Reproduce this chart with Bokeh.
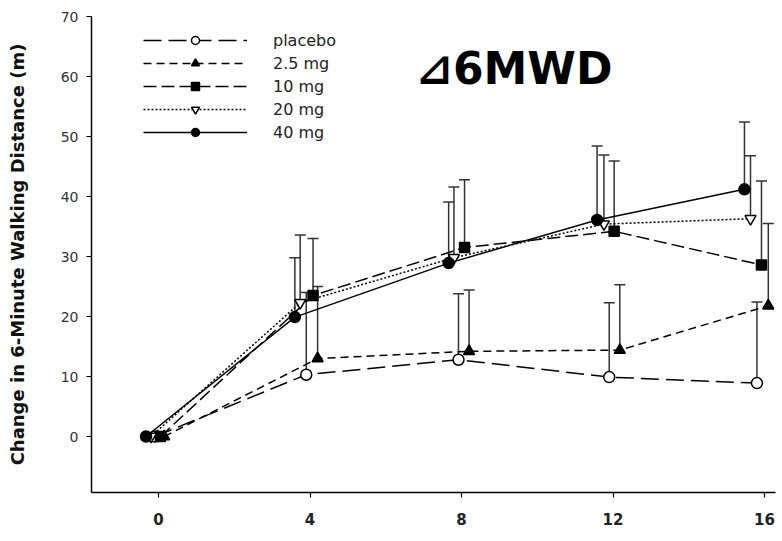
from bokeh.plotting import figure
from bokeh.models import (ColumnDataSource, Whisker, TeeHead, Legend, LegendItem,
                          Label, FixedTicker)
from bokeh.embed import file_html
from bokeh.resources import INLINE

# ---------------- data ----------------
x_ticks = [0, 4, 8, 12, 16]
y_ticks = [0, 10, 20, 30, 40, 50, 60, 70]
y_label = "Change in 6-Minute Walking Distance (m)"
title_text = "\u22bf6MWD"

series_names = ["placebo", "2.5 mg", "10 mg", "20 mg", "40 mg"]

x_placebo = [-0.10, 3.90, 7.92, 11.90, 15.80]
y_placebo = [0, 10.3, 12.8, 9.9, 8.9]
err_placebo = [0, 13.7, 11.0, 12.4, 13.5]

x_2_5 = [0.15, 4.20, 8.20, 12.18, 16.10]
y_2_5 = [0, 13.0, 14.2, 14.4, 21.8]
err_2_5 = [0, 12.0, 10.2, 10.9, 13.7]

x_10 = [0.05, 4.08, 8.08, 12.03, 15.92]
y_10 = [0, 23.5, 31.5, 34.2, 28.6]
err_10 = [0, 9.5, 11.3, 11.7, 14.0]

x_20 = [-0.20, 3.74, 7.80, 11.76, 15.63]
y_20 = [0, 22.3, 29.8, 35.4, 36.3]
err_20 = [0, 11.3, 11.8, 11.5, 10.5]

x_40 = [-0.33, 3.60, 7.66, 11.58, 15.47]
y_40 = [0, 19.9, 28.9, 36.1, 41.2]
err_40 = [0, 9.9, 10.2, 12.3, 11.2]

FONT = "DejaVu Sans"

p = figure(width=782, height=541, output_backend="svg", toolbar_location=None,
           x_range=(-1.77, 16.29), y_range=(-9.33, 70),
           min_border_left=91, min_border_right=7, min_border_top=16,
           min_border_bottom=49)
p.outline_line_color = None
p.xgrid.grid_line_color = None
p.ygrid.grid_line_color = None
p.background_fill_color = "white"
p.border_fill_color = "white"

for ax in (p.xaxis[0], p.yaxis[0]):
    ax.axis_line_color = "black"
    ax.axis_line_width = 1.5
    ax.major_tick_line_color = "black"
    ax.major_tick_line_width = 1.2
    ax.major_tick_in = 0
    ax.major_tick_out = 5
    ax.minor_tick_line_color = None
    ax.major_label_text_font = FONT

p.xaxis.ticker = FixedTicker(ticks=x_ticks)
p.xaxis.major_label_text_font_size = "15px"
p.xaxis.major_label_text_font_style = "bold"
p.xaxis.major_label_text_color = "#222222"
p.xaxis.major_label_standoff = 15

p.yaxis.ticker = FixedTicker(ticks=y_ticks)
p.yaxis.major_label_text_font_size = "14px"
p.yaxis.major_label_text_color = "#333333"
p.yaxis.major_label_standoff = 8
p.yaxis.axis_label = y_label
p.yaxis.axis_label_text_font = FONT
p.yaxis.axis_label_text_font_size = "18px"
p.yaxis.axis_label_text_font_style = "bold"
p.yaxis.axis_label_text_color = "#111111"
p.yaxis.axis_label_standoff = 30

styles = [
    dict(x=x_placebo, y=y_placebo, err=err_placebo, dash="18 7", marker="circle",
         fill="white", size=11),
    dict(x=x_2_5, y=y_2_5, err=err_2_5, dash="8 5", marker="triangle",
         fill="black", size=11),
    dict(x=x_10, y=y_10, err=err_10, dash="13 5", marker="square",
         fill="black", size=10),
    dict(x=x_20, y=y_20, err=err_20, dash="2 2", marker="inverted_triangle",
         fill="white", size=11),
    dict(x=x_40, y=y_40, err=err_40, dash="solid", marker="circle",
         fill="black", size=11),
]

# error bars (upper only)
for s in styles:
    idx = [i for i, e in enumerate(s["err"]) if e > 0]
    src = ColumnDataSource(dict(
        x=[s["x"][i] for i in idx],
        y=[s["y"][i] for i in idx],
        upper=[s["y"][i] + s["err"][i] for i in idx],
    ))
    w = Whisker(source=src, base="x", lower="y", upper="upper", dimension="height",
                line_color="#333333", line_width=1.5, level="underlay",
                upper_head=TeeHead(size=11, line_color="#333333", line_width=1.5),
                lower_head=None)
    p.add_layout(w)

items = []
for name, s in zip(series_names, styles):
    src = ColumnDataSource(dict(x=s["x"], y=s["y"]))
    ln = p.line("x", "y", source=src, line_color="black", line_width=1.5,
                line_dash=s["dash"])
    sc = p.scatter("x", "y", source=src, marker=s["marker"], size=s["size"],
                   fill_color=s["fill"], line_color="black", line_width=1.5)
    items.append(LegendItem(label=name, renderers=[ln, sc]))

legend = Legend(items=items, location=(52, 350), orientation="vertical",
                glyph_width=104, glyph_height=20, label_height=20,
                label_standoff=26, spacing=3, padding=0, margin=0,
                label_text_font=FONT, label_text_font_size="16px",
                label_text_color="#222222",
                border_line_alpha=0, background_fill_alpha=0)
p.add_layout(legend, "center")

title = Label(x=6.80, y=61.3, text=title_text, text_font=FONT,
              text_font_size="44px", text_font_style="bold",
              text_color="black", text_baseline="alphabetic")
p.add_layout(title)

open("out.html", "w").write(file_html(p, INLINE))
